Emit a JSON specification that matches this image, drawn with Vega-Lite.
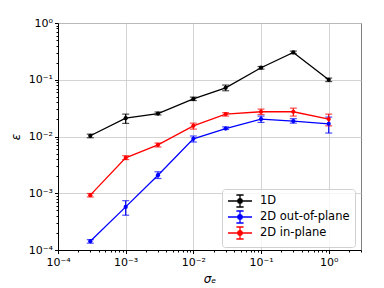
{
  "$schema": "https://vega.github.io/schema/vega-lite/v6.json",
  "width": 303,
  "height": 227,
  "autosize": "none",
  "padding": {"left": 58, "top": 23, "right": 23, "bottom": 38},
  "background": "white",
  "config": {
    "view": {"stroke": "#808080", "strokeWidth": 1},
    "font": "DejaVu Sans",
    "axis": {
      "labelFont": "DejaVu Sans",
      "labelFontSize": 11,
      "labelColor": "black",
      "titleFont": "DejaVu Sans",
      "titleFontWeight": "normal",
      "titleFontSize": 12,
      "titleColor": "black",
      "domainColor": "black",
      "domainWidth": 1,
      "tickColor": "black",
      "gridColor": "#c8c8c8",
      "gridWidth": 0.8
    }
  },
  "data": {
    "values": [
      {"series": "1D", "x": 0.0003, "y": 0.0103, "lo": 0.0095, "hi": 0.011},
      {"series": "1D", "x": 0.001, "y": 0.021, "lo": 0.017, "hi": 0.0248},
      {"series": "1D", "x": 0.003, "y": 0.0254, "lo": 0.024, "hi": 0.027},
      {"series": "1D", "x": 0.01, "y": 0.046, "lo": 0.043, "hi": 0.0494},
      {"series": "1D", "x": 0.03, "y": 0.072, "lo": 0.064, "hi": 0.0806},
      {"series": "1D", "x": 0.1, "y": 0.163, "lo": 0.154, "hi": 0.171},
      {"series": "1D", "x": 0.3, "y": 0.303, "lo": 0.288, "hi": 0.32},
      {"series": "1D", "x": 1, "y": 0.1, "lo": 0.093, "hi": 0.107},
      {"series": "2D out-of-plane", "x": 0.0003, "y": 0.000143, "lo": 0.000132, "hi": 0.000152},
      {"series": "2D out-of-plane", "x": 0.001, "y": 0.000575, "lo": 0.00041, "hi": 0.00074},
      {"series": "2D out-of-plane", "x": 0.003, "y": 0.00208, "lo": 0.00182, "hi": 0.00239},
      {"series": "2D out-of-plane", "x": 0.01, "y": 0.0091, "lo": 0.008, "hi": 0.0102},
      {"series": "2D out-of-plane", "x": 0.03, "y": 0.0138, "lo": 0.0133, "hi": 0.0148},
      {"series": "2D out-of-plane", "x": 0.1, "y": 0.0203, "lo": 0.0177, "hi": 0.0229},
      {"series": "2D out-of-plane", "x": 0.3, "y": 0.0187, "lo": 0.0172, "hi": 0.0206},
      {"series": "2D out-of-plane", "x": 1, "y": 0.0167, "lo": 0.0115, "hi": 0.022},
      {"series": "2D in-plane", "x": 0.0003, "y": 0.000925, "lo": 0.00086, "hi": 0.00099},
      {"series": "2D in-plane", "x": 0.001, "y": 0.0042, "lo": 0.00392, "hi": 0.00459},
      {"series": "2D in-plane", "x": 0.003, "y": 0.00714, "lo": 0.00654, "hi": 0.00766},
      {"series": "2D in-plane", "x": 0.01, "y": 0.0154, "lo": 0.0135, "hi": 0.0172},
      {"series": "2D in-plane", "x": 0.03, "y": 0.0248, "lo": 0.0229, "hi": 0.0263},
      {"series": "2D in-plane", "x": 0.1, "y": 0.0273, "lo": 0.0244, "hi": 0.0304},
      {"series": "2D in-plane", "x": 0.3, "y": 0.0273, "lo": 0.0229, "hi": 0.0316},
      {"series": "2D in-plane", "x": 1, "y": 0.0203, "lo": 0.0154, "hi": 0.0248}
    ]
  },
  "encoding": {
    "x": {
      "field": "x",
      "type": "quantitative",
      "scale": {"type": "log", "domain": [0.0001, 3], "nice": false},
      "axis": {
        "title": "σₑ",
        "titleFontStyle": "italic",
        "titlePadding": 6,
        "values": [0.0001,0.0002,0.0003,0.0004,0.0005,0.0006,0.0007,0.0008,0.0009,0.001,0.002,0.003,0.004,0.005,0.006,0.007,0.008,0.009,0.01,0.02,0.03,0.04,0.05,0.06,0.07,0.08,0.09,0.1,0.2,0.3,0.4,0.5,0.6,0.7,0.8,0.9,1,2,3],
        "labelExpr": "datum.value < 0.00015 ? '10⁻⁴' : abs(datum.value-0.001) < 0.00001 ? '10⁻³' : abs(datum.value-0.01) < 0.0001 ? '10⁻²' : abs(datum.value-0.1) < 0.001 ? '10⁻¹' : abs(datum.value-1) < 0.01 ? '10⁰' : ''",
        "labelPadding": 3,
        "tickSize": {"condition": {"test": "abs(log(datum.value)/LN10 - round(log(datum.value)/LN10)) < 0.01", "value": 3.5}, "value": 2},
        "gridOpacity": {"condition": {"test": "abs(log(datum.value)/LN10 - round(log(datum.value)/LN10)) < 0.01", "value": 1}, "value": 0},
        "labelFlush": false,
        "labelOverlap": false
      }
    },
    "color": {
      "field": "series",
      "type": "nominal",
      "sort": ["1D", "2D out-of-plane", "2D in-plane"],
      "scale": {"domain": ["1D", "2D out-of-plane", "2D in-plane"], "range": ["#000000", "#0000ff", "#ff0000"]},
      "legend": {
        "title": null,
        "orient": "none",
        "legendX": 164,
        "legendY": 166,
        "symbolType": "M-1,0H3M1,-1V1M0.4,-1H1.6M0.4,1H1.6M1.4,0L1.28,0.28L1,0.4L0.72,0.28L0.6,0L0.72,-0.28L1,-0.4L1.28,-0.28Z",
        "symbolSize": 144,
        "symbolStrokeWidth": 1.3,
        "labelFont": "DejaVu Sans",
        "labelFontSize": 11.5,
        "labelColor": "black",
        "labelOffset": 19,
        "rowPadding": -2,
        "padding": 5,
        "fillColor": "rgba(255,255,255,0.8)",
        "strokeColor": "#d0d0d0",
        "cornerRadius": 3,
        "encode": {
          "symbols": {
            "update": {
              "shape": {"value": "M-1,0H3M1,-1V1M0.4,-1H1.6M0.4,1H1.6M1.4,0L1.28,0.28L1,0.4L0.72,0.28L0.6,0L0.72,-0.28L1,-0.4L1.28,-0.28Z"},
              "size": {"value": 144},
              "fill": {"scale": "color", "field": "value"},
              "stroke": {"scale": "color", "field": "value"},
              "fillOpacity": {"value": 1},
              "strokeOpacity": {"value": 1},
              "opacity": {"value": 1},
              "strokeWidth": {"value": 1.3}
            }
          }
        }
      }
    }
  },
  "layer": [
    {
      "mark": {"type": "rule", "strokeWidth": 1.2},
      "encoding": {
        "y": {"field": "lo", "type": "quantitative", "scale": {"type": "log", "domain": [0.0001, 1], "nice": false}},
        "y2": {"field": "hi"}
      }
    },
    {
      "mark": {"type": "tick", "orient": "horizontal", "size": 7, "thickness": 1.2},
      "encoding": {"y": {"field": "lo", "type": "quantitative"}}
    },
    {
      "mark": {"type": "tick", "orient": "horizontal", "size": 7, "thickness": 1.2},
      "encoding": {"y": {"field": "hi", "type": "quantitative"}}
    },
    {
      "mark": {"type": "line", "strokeWidth": 1.3},
      "encoding": {
        "y": {
          "field": "y",
          "type": "quantitative",
          "scale": {"type": "log", "domain": [0.0001, 1], "nice": false},
          "axis": {
            "title": "ε",
            "titleFontStyle": "italic",
            "titlePadding": 6,
            "values": [0.0001,0.0002,0.0003,0.0004,0.0005,0.0006,0.0007,0.0008,0.0009,0.001,0.002,0.003,0.004,0.005,0.006,0.007,0.008,0.009,0.01,0.02,0.03,0.04,0.05,0.06,0.07,0.08,0.09,0.1,0.2,0.3,0.4,0.5,0.6,0.7,0.8,0.9,1],
            "labelExpr": "datum.value < 0.00015 ? '10⁻⁴' : abs(datum.value-0.001) < 0.00001 ? '10⁻³' : abs(datum.value-0.01) < 0.0001 ? '10⁻²' : abs(datum.value-0.1) < 0.001 ? '10⁻¹' : abs(datum.value-1) < 0.01 ? '10⁰' : ''",
            "labelPadding": 2,
            "tickSize": {"condition": {"test": "abs(log(datum.value)/LN10 - round(log(datum.value)/LN10)) < 0.01", "value": 3.5}, "value": 2},
            "gridOpacity": {"condition": {"test": "abs(log(datum.value)/LN10 - round(log(datum.value)/LN10)) < 0.01", "value": 1}, "value": 0},
            "labelFlush": false,
            "labelOverlap": false
          }
        }
      }
    },
    {
      "mark": {"type": "point", "filled": true, "size": 18, "opacity": 1},
      "encoding": {"y": {"field": "y", "type": "quantitative"}}
    }
  ]
}
